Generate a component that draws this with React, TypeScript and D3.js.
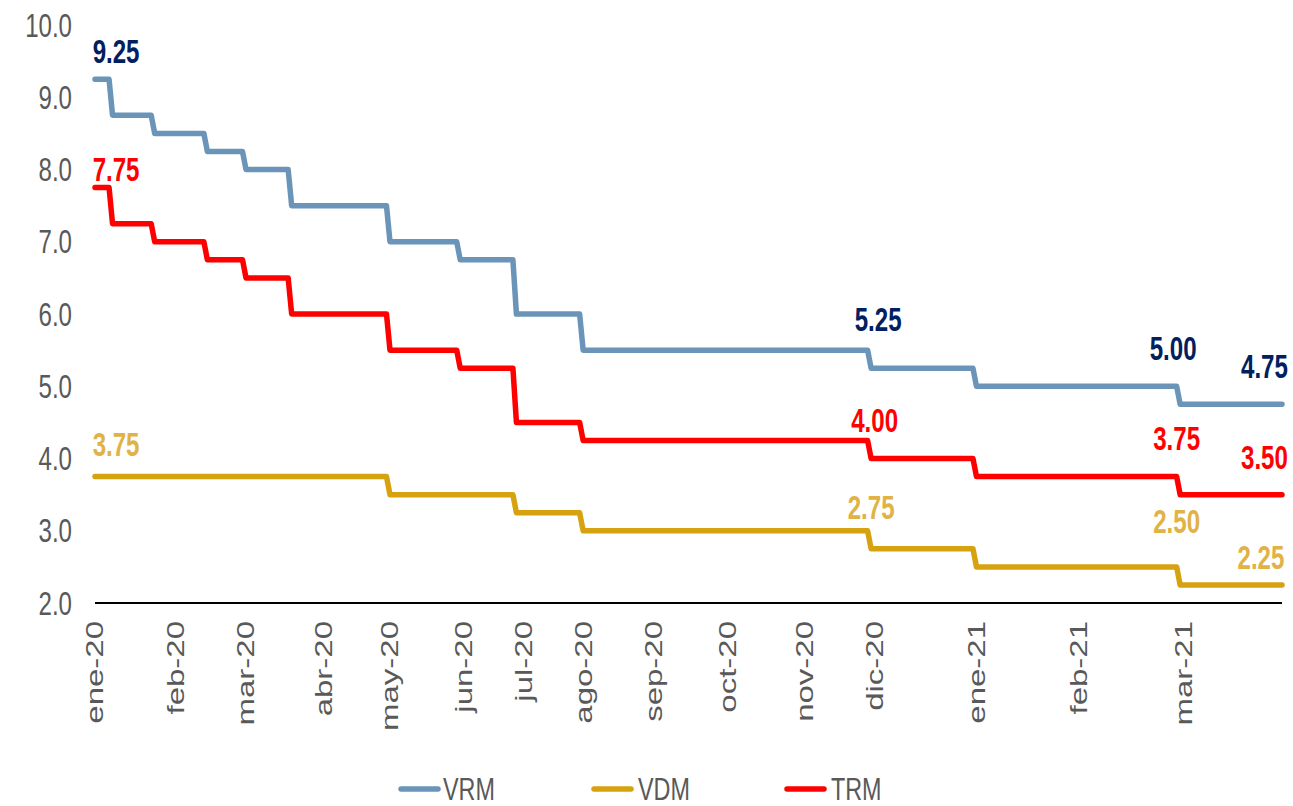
import React from "react";
import * as d3 from "d3";

// ---- Data ----
const monthLabels = [
  "ene-20", "feb-20", "mar-20", "abr-20", "may-20", "jun-20", "jul-20", "ago-20",
  "sep-20", "oct-20", "nov-20", "dic-20", "ene-21", "feb-21", "mar-21",
];
// observation index of the first observation of each month
const monthStartObs = [0, 23, 43, 65, 84, 105, 122, 139, 159, 180, 202, 222, 251, 280, 310];
// last observation index
const lastObs = 338;
// observation index of the last day before each rate change
const rateChangeObs = [4, 16, 31, 42, 55, 83, 103, 119, 138, 220, 250, 308];

// rate levels: initial level, then the level after each change
const vrmLevels = [9.25, 8.75, 8.5, 8.25, 8.0, 7.5, 7.0, 6.75, 6.0, 5.5, 5.25, 5.0, 4.75];
const vdmLevels = [3.75, 3.75, 3.75, 3.75, 3.75, 3.75, 3.5, 3.5, 3.25, 3.0, 2.75, 2.5, 2.25];
const trmLevels = [7.75, 7.25, 7.0, 6.75, 6.5, 6.0, 5.5, 5.25, 4.5, 4.25, 4.0, 3.75, 3.5];

const seriesNames = ["VRM", "VDM", "TRM"];
const yTicks = [2, 3, 4, 5, 6, 7, 8, 9, 10];

// data labels (series, observation, value)
const labelSeries = ["VRM", "TRM", "VDM", "VRM", "VRM", "VRM", "TRM", "TRM", "TRM", "VDM", "VDM", "VDM"];
const labelObs = [6, 6, 6, 223, 307, 333, 222, 308, 333, 221, 308, 332];
const labelValues = [9.25, 7.75, 3.75, 5.25, 5.0, 4.75, 4.0, 3.75, 3.5, 2.75, 2.5, 2.25];

// ---- Styling / layout ----
const labelDy = [-16, -7, -21, -37.5, -26.5, -26.5, -26.6, -26.7, -25.7, -29.8, -34, -16];
const lineColors: Record<string, string> = { VRM: "#6A95B9", VDM: "#D6A20F", TRM: "#FF0000" };
const labelColors: Record<string, string> = { VRM: "#002060", VDM: "#E1B245", TRM: "#FF0000" };
const FONT = "'Liberation Sans', Arial, sans-serif";
const SX = 0.73;
const GRAY = "#595959";

export default function App() {
  const width = 1293;
  const height = 806;
  const x = d3.scaleLinear().domain([0, lastObs]).range([95, 1282]);
  const y = d3.scaleLinear().domain([2, 10]).range([603, 25]);

  const obs = d3.range(0, lastObs + 1);
  const levelIdx = (i: number) => rateChangeObs.filter((k) => k < i).length;
  const levelsBy: Record<string, number[]> = { VRM: vrmLevels, VDM: vdmLevels, TRM: trmLevels };

  const lineGen = (levels: number[]) =>
    d3
      .line<number>()
      .x((i) => x(i))
      .y((i) => y(levels[levelIdx(i)]))(obs) || "";

  const drawOrder = ["VDM", "VRM", "TRM"];

  const legendItems = [
    { name: "VRM", lx: 399, tx: 443 },
    { name: "VDM", lx: 592, tx: 638 },
    { name: "TRM", lx: 785, tx: 831 },
  ];

  return (
    <svg
      width={width}
      height={height}
      style={{ position: "absolute", left: 0, top: 0, background: "#fff" }}
      fontFamily={FONT}
    >
      <rect x={0} y={0} width={width} height={height} fill="#fff" />
      {/* y tick labels */}
      {yTicks.map((v) => (
        <text
          key={v}
          transform={`translate(72,${y(v)}) scale(${SX},1)`}
          textAnchor="end"
          dy="0.35em"
          fontSize={33}
          fill={GRAY}
        >
          {d3.format(".1f")(v)}
        </text>
      ))}
      {/* x axis line */}
      <line x1={x(0)} x2={x(lastObs)} y1={y(2)} y2={y(2)} stroke="#000" strokeWidth={1.8} />
      {/* x tick labels */}
      {monthLabels.map((m, i) => (
        <text
          key={m}
          transform={`translate(${x(monthStartObs[i])},621) scale(${SX},1) rotate(-90)`}
          textAnchor="end"
          dy="0.35em"
          fontSize={33}
          fill={GRAY}
        >
          {m}
        </text>
      ))}
      {/* lines */}
      {drawOrder.map((s) => (
        <path
          key={s}
          d={lineGen(levelsBy[s])}
          fill="none"
          stroke={lineColors[s]}
          strokeWidth={5.5}
          strokeLinejoin="round"
          strokeLinecap="round"
        />
      ))}
      {/* data labels */}
      {labelValues.map((v, i) => (
        <text
          key={i}
          transform={`translate(${x(labelObs[i])},${y(v) + labelDy[i]}) scale(${SX},1)`}
          textAnchor="middle"
          fontSize={33}
          fontWeight="bold"
          fill={labelColors[labelSeries[i]]}
        >
          {d3.format(".2f")(v)}
        </text>
      ))}
      {/* legend */}
      {legendItems.map((it) => (
        <g key={it.name}>
          <line
            x1={it.lx + 2}
            x2={it.lx + 39}
            y1={789}
            y2={789}
            stroke={lineColors[it.name]}
            strokeWidth={5.5}
            strokeLinecap="round"
          />
          <text
            transform={`translate(${it.tx},800) scale(${SX},1)`}
            fontSize={32}
            fill={GRAY}
          >
            {seriesNames.includes(it.name) ? it.name : ""}
          </text>
        </g>
      ))}
    </svg>
  );
}
